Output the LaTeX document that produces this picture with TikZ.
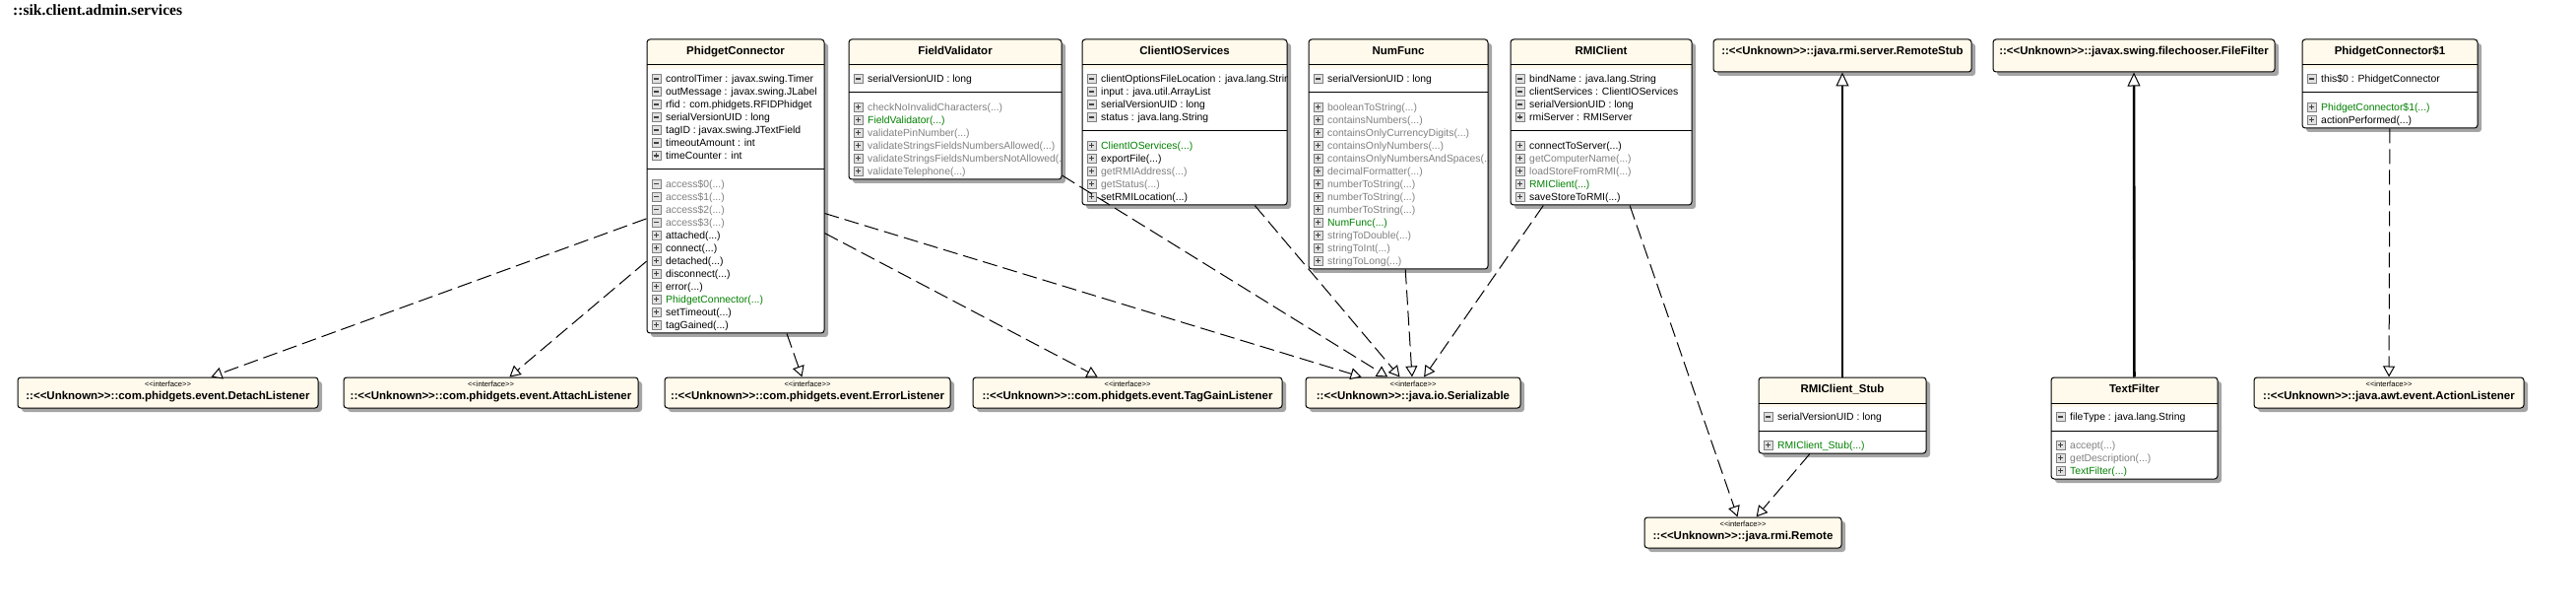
\documentclass[tikz,border=0pt]{standalone}
\usepackage{fontspec}
\setmainfont{Liberation Sans}
\newfontfamily\titleserif{Liberation Serif}
\usetikzlibrary{arrows.meta,fit}

\definecolor{cream}{RGB}{255,250,235}
\definecolor{shadowc}{RGB}{165,165,165}
\definecolor{gtx}{RGB}{128,128,128}
\definecolor{grn}{RGB}{0,128,0}

\newcount\rowcnt
\newcommand\LL{<\kern0pt<}
\newcommand\GG{>\kern0pt>}

\tikzset{
  boxframe/.style={draw=black, line width=1pt, rounded corners=3pt, inner sep=0pt, fill=none},
  sepline/.style={draw=black, line width=1pt},
  rowtext/.style={anchor=base west, inner sep=0pt, font=\fontsize{10.4}{12}\selectfont},
  titletext/.style={anchor=base, inner sep=0pt, font=\fontsize{11.5}{13}\selectfont\bfseries},
  stereo/.style={anchor=base, inner sep=0pt, font=\fontsize{7.6}{9}\selectfont},
  ifname/.style={anchor=base, inner sep=0pt, font=\fontsize{11.5}{13}\selectfont\bfseries},
  iconframe/.style={draw=black!50, fill=black!12, line width=0.9pt},
  iconsign/.style={draw=black!75, line width=1.2pt},
  realize/.style={draw, line width=1pt, dash pattern=on 15pt off 6pt,
    -{Triangle[length=11pt,width=12pt,fill=white]}},
  general/.style={draw, line width=2.6pt,
    -{Triangle[length=14pt,width=13pt,fill=white,line width=1pt]}}
}

\newcommand\rstart[2]{\pgfmathsetmacro\rx{#1}\pgfmathsetmacro\ry{#2}}
\newcommand\rr[3]{%
  \global\advance\rowcnt by 1
  \draw[iconframe] (\rx+5,\ry-4.5) rectangle (\rx+14,\ry+4.5);
  \draw[iconsign] (\rx+7,\ry) -- (\rx+12,\ry);
  \if#1p\draw[iconsign] (\rx+9.5,\ry-2.5) -- (\rx+9.5,\ry+2.5);\fi
  \node[rowtext,text=#2] (row\the\rowcnt) at (\rx+19,\ry+3.7) {#3};
  \pgfmathsetmacro\ry{\ry+13}%
}
\newcommand\boxbase[4]{%
  \fill[shadowc,rounded corners=3pt] (#1+4,#2+4) rectangle (#3+4,#4+4);
  \fill[white,rounded corners=3pt] (#1,#2) rectangle (#3,#4);
}
% name, x1, y1, x2, y2, title, sep2, attrs, methods
\newcommand\classbox[9]{%
  \boxbase{#2}{#3}{#4}{#5}
  \begin{scope}
    \clip[rounded corners=3pt] (#2,#3) rectangle (#4,#5);
    \fill[cream] (#2,#3) rectangle (#4,#3+30);
    \draw[sepline] (#2,#3+26) -- (#4,#3+26);
    \draw[sepline] (#2,#7) -- (#4,#7);
    \node[titletext] (#1-title) at ({(#2+#4)/2},#3+15.1) {#6};
    \rstart{#2}{#3+40}#8
    \rstart{#2}{#7+14.5}#9
  \end{scope}
  \node[boxframe, fit={(#2,#3)(#4,#5)}] (#1) {};
}
% name, x1, y1, x2, text
\newcommand\ifacebox[5]{%
  \boxbase{#2}{#3}{#4}{#3+31}
  \fill[cream, rounded corners=3pt] (#2,#3) rectangle (#4,#3+31);
  \node[stereo] (#1-st) at ({(#2+#4)/2},#3+9.7) {\LL interface\GG};
  \node[ifname] (#1-nm) at ({(#2+#4)/2},#3+22.1) {::\LL Unknown\GG::#5};
  \node[boxframe, fit={(#2,#3)(#4,#3+31)}] (#1) {};
}
% name, x1, x2, text
\newcommand\stubbox[4]{%
  \boxbase{#2}{40}{#3}{73}
  \fill[cream, rounded corners=3pt] (#2,40) rectangle (#3,73);
  \node[ifname] (#1-nm) at ({(#2+#3)/2},55.1) {::\LL Unknown\GG::#4};
  \node[boxframe, fit={(#2,40)(#3,73)}] (#1) {};
}

\begin{document}
\begin{tikzpicture}[x=1pt,y=-1pt]
\useasboundingbox[fill=white] (0,0) rectangle (2616,620);
\node[anchor=base west, inner sep=0pt, font={\titleserif\bfseries\fontsize{15.6}{18}\selectfont}] (pkg) at (13,16) {::sik.client.admin.services};

\classbox{pc}{657}{40}{837}{338}{PhidgetConnector}{172}{%
  \rr m{black}{controlTimer : javax.swing.Timer}
  \rr m{black}{outMessage : javax.swing.JLabel}
  \rr m{black}{rfid : com.phidgets.RFIDPhidget}
  \rr m{black}{serialVersionUID : long}
  \rr m{black}{tagID : javax.swing.JTextField}
  \rr m{black}{timeoutAmount : int}
  \rr p{black}{timeCounter : int}}{%
  \rr m{gtx}{access\$0(...)}
  \rr m{gtx}{access\$1(...)}
  \rr m{gtx}{access\$2(...)}
  \rr m{gtx}{access\$3(...)}
  \rr p{black}{attached(...)}
  \rr p{black}{connect(...)}
  \rr p{black}{detached(...)}
  \rr p{black}{disconnect(...)}
  \rr p{black}{error(...)}
  \rr p{grn}{PhidgetConnector(...)}
  \rr p{black}{setTimeout(...)}
  \rr p{black}{tagGained(...)}}

\classbox{fv}{862}{40}{1078}{182}{FieldValidator}{94}{%
  \rr m{black}{serialVersionUID : long}}{%
  \rr p{gtx}{checkNoInvalidCharacters(...)}
  \rr p{grn}{FieldValidator(...)}
  \rr p{gtx}{validatePinNumber(...)}
  \rr p{gtx}{validateStringsFieldsNumbersAllowed(...)}
  \rr p{gtx}{validateStringsFieldsNumbersNotAllowed(...)}
  \rr p{gtx}{validateTelephone(...)}}

\classbox{cio}{1099}{40}{1307}{208}{ClientIOServices}{133}{%
  \rr m{black}{clientOptionsFileLocation : java.lang.String}
  \rr m{black}{input : java.util.ArrayList}
  \rr m{black}{serialVersionUID : long}
  \rr m{black}{status : java.lang.String}}{%
  \rr p{grn}{ClientIOServices(...)}
  \rr p{black}{exportFile(...)}
  \rr p{gtx}{getRMIAddress(...)}
  \rr p{gtx}{getStatus(...)}
  \rr p{black}{setRMILocation(...)}}

\classbox{nf}{1329}{40}{1511}{273}{NumFunc}{94}{%
  \rr m{black}{serialVersionUID : long}}{%
  \rr p{gtx}{booleanToString(...)}
  \rr p{gtx}{containsNumbers(...)}
  \rr p{gtx}{containsOnlyCurrencyDigits(...)}
  \rr p{gtx}{containsOnlyNumbers(...)}
  \rr p{gtx}{containsOnlyNumbersAndSpaces(...)}
  \rr p{gtx}{decimalFormatter(...)}
  \rr p{gtx}{numberToString(...)}
  \rr p{gtx}{numberToString(...)}
  \rr p{gtx}{numberToString(...)}
  \rr p{grn}{NumFunc(...)}
  \rr p{gtx}{stringToDouble(...)}
  \rr p{gtx}{stringToInt(...)}
  \rr p{gtx}{stringToLong(...)}}

\classbox{rmi}{1534}{40}{1718}{208}{RMIClient}{133}{%
  \rr m{black}{bindName : java.lang.String}
  \rr m{black}{clientServices : ClientIOServices}
  \rr m{black}{serialVersionUID : long}
  \rr p{black}{rmiServer : RMIServer}}{%
  \rr p{black}{connectToServer(...)}
  \rr p{gtx}{getComputerName(...)}
  \rr p{gtx}{loadStoreFromRMI(...)}
  \rr p{grn}{RMIClient(...)}
  \rr p{black}{saveStoreToRMI(...)}}

\stubbox{rstub}{1740}{2002}{java.rmi.server.RemoteStub}
\stubbox{ff}{2024}{2310}{javax.swing.filechooser.FileFilter}

\classbox{pc1}{2338}{40}{2516}{130}{PhidgetConnector\$1}{94}{%
  \rr m{black}{this\$0 : PhidgetConnector}}{%
  \rr p{grn}{PhidgetConnector\$1(...)}
  \rr p{black}{actionPerformed(...)}}

\classbox{stub}{1786}{383}{1956}{460}{RMIClient\_Stub}{437}{%
  \rr m{black}{serialVersionUID : long}}{%
  \rr p{grn}{RMIClient\_Stub(...)}}

\classbox{tf}{2083}{383}{2252}{486}{TextFilter}{437}{%
  \rr m{black}{fileType : java.lang.String}}{%
  \rr p{gtx}{accept(...)}
  \rr p{gtx}{getDescription(...)}
  \rr p{grn}{TextFilter(...)}}

\ifacebox{detach}{18}{383}{323}{com.phidgets.event.DetachListener}
\ifacebox{attach}{349}{383}{648}{com.phidgets.event.AttachListener}
\ifacebox{errorl}{675}{383}{965}{com.phidgets.event.ErrorListener}
\ifacebox{taggain}{988}{383}{1302}{com.phidgets.event.TagGainListener}
\ifacebox{serial}{1326}{383}{1544}{java.io.Serializable}
\ifacebox{action}{2289}{383}{2563}{java.awt.event.ActionListener}
\ifacebox{remote}{1670}{525}{1870}{java.rmi.Remote}

\draw[realize] (pc) -- (detach);
\draw[realize] (pc) -- (attach);
\draw[realize] (pc) -- (errorl);
\draw[realize] (pc) -- (taggain);
\draw[realize] (pc) -- (serial);
\draw[realize] (fv) -- (serial);
\draw[realize] (cio) -- (serial);
\draw[realize] (nf) -- (serial);
\draw[realize] (rmi) -- (serial);
\draw[realize] (rmi) -- (remote);
\draw[realize] (stub) -- (remote);
\draw[realize] (pc1) -- (action);
\draw[general] (stub) -- (rstub);
\draw[general] (tf) -- (ff);
\end{tikzpicture}
\end{document}
